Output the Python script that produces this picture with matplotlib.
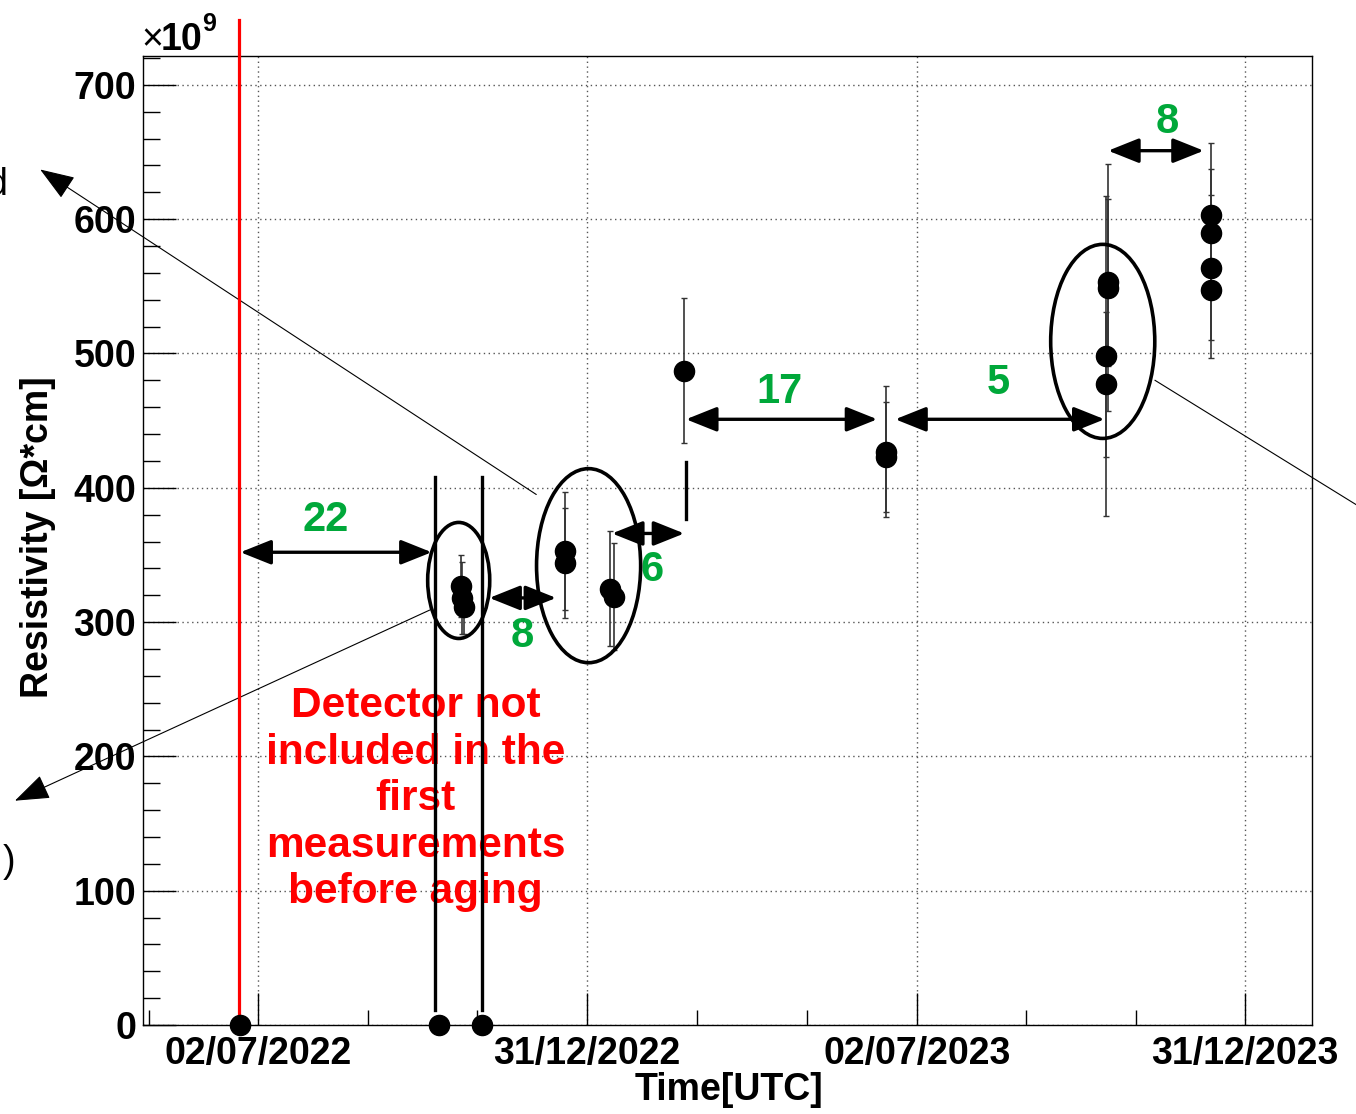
import numpy as np
import pandas as pd
import matplotlib
matplotlib.use('Agg')
import matplotlib.pyplot as plt
import matplotlib.dates as mdates
from matplotlib.patches import Ellipse

plt.rcParams['font.family'] = ['Liberation Sans', 'DejaVu Sans']

# medidas de resistividad (en unidades de 1e9 Ohm*cm)
fechas = ['2022-06-22', '2022-10-10', '2022-11-03',
          '2022-10-22', '2022-10-23', '2022-10-24',
          '2022-12-19', '2022-12-19',
          '2023-01-13', '2023-01-15',
          '2023-02-23',
          '2023-06-15', '2023-06-15',
          '2023-10-16', '2023-10-16', '2023-10-15', '2023-10-15',
          '2023-12-12', '2023-12-12', '2023-12-12', '2023-12-12']
resist = [0, 0, 0,
          327, 318, 311,
          353, 344,
          325, 319,
          487,
          427, 423,
          553, 549, 498, 477,
          603, 590, 564, 547]
errores = [0, 0, 0,
           23, 27, 20,
           44, 41,
           43, 40,
           54,
           49, 41,
           62, 92, 119, 54,
           54, 47, 54, 50]

# dias entre medidas
gaps = ['22', '8', '6', '17', '5', '8']
gap_ini = ['2022-06-22', '2022-11-07', '2023-01-14', '2023-02-24', '2023-06-20', '2023-10-16']
gap_fin = ['2022-10-06', '2022-12-14', '2023-02-23', '2023-06-10', '2023-10-14', '2023-12-08']

fechas_lbl = ['2022-07-02', '2022-12-31', '2023-07-02', '2023-12-31']

df = pd.DataFrame({'Fecha': pd.to_datetime(fechas), 'R': resist, 'err': errores})

fig = plt.figure(figsize=(13.56, 11.14), dpi=100)
ax = fig.add_axes([143/1356, 1-1025/1114, (1312-143)/1356, (1025-56)/1114])

def d(s):
    return mdates.date2num(pd.Timestamp(s))

ax.errorbar(df['Fecha'], df['R'], yerr=df['err'], fmt='none', ecolor='#333333',
            elinewidth=1.2, capsize=2.5, capthick=1.0, zorder=3)
ax.plot(df['Fecha'], df['R'], 'o', color='black', markersize=14.5, clip_on=False, zorder=5)

ax.set_xlim(d('2022-04-29'), d('2024-02-06'))
ax.set_ylim(0, 721.5)

majors = [d(f) for f in fechas_lbl]
minors = [majors[0] - (majors[1] - majors[0]) / 3]
for a, b in zip(majors[:-1], majors[1:]):
    minors += list(np.linspace(a, b, 4)[1:3])
ax.set_xticks(majors)
ax.set_xticklabels([pd.Timestamp(f).strftime('%d/%m/%Y') for f in fechas_lbl])
ax.set_xticks(minors, minor=True)
ax.set_yticks(np.arange(0, 701, 100))
ax.set_yticks(np.arange(0, 721, 20), minor=True)

ax.tick_params(which='both', direction='in', top=False, right=False, colors='black')
ax.tick_params(which='major', axis='y', length=24, width=1, pad=5, labelsize=27)
ax.tick_params(which='minor', axis='y', length=12, width=1)
ax.tick_params(which='major', axis='x', length=23, width=1, pad=8, labelsize=27)
ax.tick_params(which='minor', axis='x', length=11, width=1)
for lbl in ax.get_xticklabels() + ax.get_yticklabels():
    lbl.set_fontweight('bold')
for sp in ax.spines.values():
    sp.set_linewidth(1)
ax.grid(which='major', color='#555555', linestyle=(0, (1, 2.5)), linewidth=1)

# linea roja (inicio)
ax.plot([d('2022-06-21')] * 2, [0, 748], color='red', lw=2.3, clip_on=False, zorder=4)

# lineas negras verticales
for f, y0, y1 in [('2022-10-08', 11, 408), ('2022-11-03', 11, 408), ('2023-02-24', 377, 419)]:
    ax.plot([d(f)] * 2, [y0, y1], color='black', lw=2.4, zorder=4)

# flechas dobles con los dias
gap_y = [352, 318, 366, 451, 451, 651]
lab_x = ['2022-08-08', '2022-11-25', '2023-02-05', '2023-04-17', '2023-08-16', '2023-11-18']
lab_y = [376, 290, 339, 471, 478, 672]
for g, a, b, y, lx, ly in zip(gaps, gap_ini, gap_fin, gap_y, lab_x, lab_y):
    ax.annotate('', xy=(d(b), y), xytext=(d(a), y),
                arrowprops=dict(arrowstyle='<|-|>,head_length=0.95,head_width=0.38',
                                mutation_scale=20, color='black', lw=2.4,
                                shrinkA=0, shrinkB=0))
    ax.text(d(lx), ly, g, color='#00a83a', fontsize=30, fontweight='bold',
            ha='center', va='center')

# elipses
for c, y, w, h in [('2022-10-21', 331, 34.4, 86.4), ('2023-01-01', 342, 57.7, 144.5),
                   ('2023-10-13', 509, 57.7, 144.5)]:
    ax.add_patch(Ellipse((d(c), y), w, h, fill=False, lw=2.6, edgecolor='black', zorder=6))

# lineas finas hacia otros paneles
for (x0, y0), (x1, y1) in [(('2022-12-03', 395), ('2022-03-03', 637)),
                           (('2022-10-05', 309), ('2022-02-17', 167))]:
    ax.annotate('', xy=(d(x1), y1), xytext=(d(x0), y0), annotation_clip=False,
                arrowprops=dict(arrowstyle='-|>,head_length=1.1,head_width=0.4',
                                mutation_scale=20, color='black', lw=0.8,
                                shrinkA=0, shrinkB=0))
ax.plot([d('2023-11-11'), d('2024-03-02')], [480, 387], color='black', lw=0.8, clip_on=False)

ax.text(d('2022-09-27'), 168, 'Detector not\nincluded in the\nfirst\nmeasurements\nbefore aging',
        color='red', fontsize=30.5, fontweight='bold', ha='center', va='center',
        multialignment='center', linespacing=1.21)

# textos fuera del marco
fig.text(38/1356, 1-537/1114, 'Resistivity [\u03a9*cm]', rotation=90, fontsize=27,
         fontweight='bold', ha='center', va='center')
fig.text(729/1356, 1-1090/1114, 'Time[UTC]', fontsize=27, fontweight='bold',
         ha='center', va='center')
fig.text(141/1356, 1-50/1114, '\u00d7', fontsize=27, ha='left', va='baseline')
fig.text(161/1356, 1-50/1114, '10', fontsize=27, fontweight='bold', ha='left', va='baseline')
fig.text(202/1356, 1-31/1114, '9', fontsize=18, fontweight='bold', ha='left', va='baseline')
fig.text(7/1356, 1-185/1114, 'd', fontsize=27, ha='right', va='center')
fig.text(15/1356, 1-862/1114, ')', fontsize=27, ha='right', va='center')

fig.savefig('out.png', dpi=100)
